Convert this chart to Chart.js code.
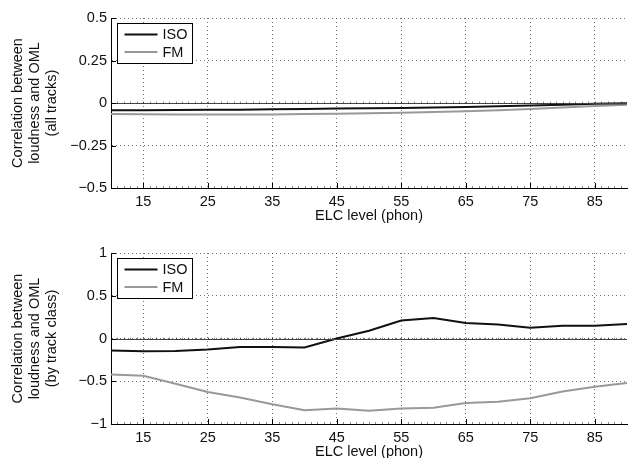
<!DOCTYPE html>
<html>
<head>
<meta charset="utf-8">
<script src="https://cdn.jsdelivr.net/npm/chart.js@4/dist/chart.umd.min.js"></script>
<style>
  html, body { margin: 0; padding: 0; background: #fff; }
  body { width: 628px; height: 458px; overflow: hidden; position: relative; }
  canvas { position: absolute; left: 0; }
  #topChart { top: 0; }
  #bottomChart { top: 229px; }
</style>
</head>
<body>
<canvas id="topChart" width="628" height="229"></canvas>
<canvas id="bottomChart" width="628" height="240"></canvas>
<script>
// ELC levels (phon)
const levels = [10, 15, 20, 25, 30, 35, 40, 45, 50, 55, 60, 65, 70, 75, 80, 85, 90];
const xTicks = [15, 25, 35, 45, 55, 65, 75, 85];

// all tracks
const isoAll = [-0.042, -0.042, -0.041, -0.040, -0.039, -0.037, -0.035, -0.033, -0.031, -0.029, -0.026, -0.023, -0.019, -0.015, -0.010, -0.005, -0.001];
const fmAll = [-0.064, -0.066, -0.067, -0.067, -0.067, -0.067, -0.065, -0.063, -0.060, -0.057, -0.053, -0.048, -0.042, -0.035, -0.027, -0.018, -0.010];

// by track class
const isoClass = [-0.14, -0.15, -0.145, -0.13, -0.10, -0.10, -0.105, 0.0, 0.09, 0.21, 0.24, 0.18, 0.165, 0.125, 0.15, 0.15, 0.17];
const fmClass = [-0.42, -0.435, -0.53, -0.625, -0.69, -0.77, -0.84, -0.82, -0.845, -0.82, -0.81, -0.755, -0.74, -0.70, -0.62, -0.565, -0.52];

const yTicksTop = [-0.5, -0.25, 0, 0.25, 0.5];
const yTicksBottom = [-1, -0.5, 0, 0.5, 1];

const seriesNames = ["ISO", "FM"];
const seriesColors = ["#111111", "#999999"];

Chart.defaults.font.family = "'Liberation Sans', Arial, sans-serif";
Chart.defaults.font.size = 14.5;
Chart.defaults.color = "#111";

function fmt(v) {
  if (v === 0) return "0";
  return String(v).replace("-", "\u2212");
}

function pairs(ys) {
  return levels.map((x, i) => ({ x: x, y: ys[i] }));
}

// zero line, inward ticks, boxed legend
const extras = {
  id: "extras",
  afterDatasetsDraw(chart) {
    const ctx = chart.ctx;
    const a = chart.chartArea;
    const xs = chart.scales.x;
    const ys = chart.scales.y;
    ctx.save();

    // zero reference line
    const y0 = Math.round(ys.getPixelForValue(0)) + 0.5;
    ctx.strokeStyle = "#444";
    ctx.lineWidth = 1;
    ctx.beginPath();
    ctx.moveTo(a.left, y0);
    ctx.lineTo(a.right, y0);
    ctx.stroke();

    // minor ticks along zero line and bottom axis
    ctx.strokeStyle = "rgba(0,0,0,0.45)";
    ctx.beginPath();
    for (let v = 11; v < 90; v++) {
      const px = Math.round(xs.getPixelForValue(v)) + 0.5;
      ctx.moveTo(px, y0);
      ctx.lineTo(px, y0 - 2);
      ctx.moveTo(px, a.bottom);
      ctx.lineTo(px, a.bottom - 2);
    }
    ctx.stroke();

    // major ticks (inward)
    ctx.strokeStyle = "#000";
    ctx.beginPath();
    xTicks.forEach(v => {
      const px = Math.round(xs.getPixelForValue(v)) + 0.5;
      ctx.moveTo(px, a.bottom);
      ctx.lineTo(px, a.bottom - 5);
    });
    ys.ticks.forEach(t => {
      const py = Math.round(ys.getPixelForValue(t.value)) + 0.5;
      ctx.moveTo(a.left, py);
      ctx.lineTo(a.left + 5, py);
    });
    ctx.stroke();

    // legend
    const bx = Math.round(a.left + 6) + 0.5;
    const by = Math.round(a.top + 5) + 0.5;
    const bw = 75, bh = 40;
    ctx.fillStyle = "#fff";
    ctx.fillRect(bx, by, bw, bh);
    ctx.strokeStyle = "#000";
    ctx.lineWidth = 1;
    ctx.strokeRect(bx, by, bw, bh);
    ctx.font = "14.5px 'Liberation Sans', Arial, sans-serif";
    ctx.textBaseline = "middle";
    chart.data.datasets.forEach((ds, i) => {
      const ly = by + 11 + i * 17.5;
      ctx.strokeStyle = ds.borderColor;
      ctx.lineWidth = 2;
      ctx.beginPath();
      ctx.moveTo(bx + 7, ly);
      ctx.lineTo(bx + 40, ly);
      ctx.stroke();
      ctx.fillStyle = "#111";
      ctx.fillText(ds.label, bx + 45, ly + 0.5);
    });
    ctx.restore();
  }
};

function makeChart(id, isoVals, fmVals, yTicks, titleLines, topPad, xHeight) {
  const yMin = yTicks[0];
  const yMax = yTicks[yTicks.length - 1];
  return new Chart(document.getElementById(id), {
    type: "line",
    data: {
      datasets: [
        { label: seriesNames[0], data: pairs(isoVals), borderColor: seriesColors[0], borderWidth: 2, pointRadius: 0, tension: 0 },
        { label: seriesNames[1], data: pairs(fmVals), borderColor: seriesColors[1], borderWidth: 2, pointRadius: 0, tension: 0 }
      ]
    },
    options: {
      responsive: false,
      animation: false,
      layout: { padding: { top: topPad, right: 1, left: 0, bottom: 0 } },
      plugins: { legend: { display: false }, tooltip: { enabled: false } },
      scales: {
        x: {
          type: "linear",
          min: 10,
          max: 90,
          afterBuildTicks: s => { s.ticks = xTicks.map(v => ({ value: v })); },
          afterFit: s => { s.height = xHeight; },
          ticks: { padding: 5, maxRotation: 0, callback: v => String(v) },
          grid: { color: "rgba(0,0,0,0.55)", lineWidth: 1, drawTicks: false, tickLength: 0, borderDash: [1, 3] },
          border: { display: true, color: "#000", width: 1, dash: [1, 3] },
          title: { display: true, text: "ELC level (phon)", padding: { top: 0, bottom: xHeight - 41 + 4.3 } }
        },
        y: {
          min: yMin,
          max: yMax,
          afterBuildTicks: s => { s.ticks = yTicks.map(v => ({ value: v })); },
          afterFit: s => { s.width = 111; },
          ticks: { padding: 4, callback: v => fmt(v) },
          grid: { color: "rgba(0,0,0,0.55)", lineWidth: 1, drawTicks: false, tickLength: 0 },
          border: { display: true, color: "#000", width: 1, dash: [1, 3] },
          title: { display: true, text: titleLines, font: { size: 14.5, lineHeight: 1.17 }, padding: { top: 10, bottom: 0 } }
        }
      }
    },
    plugins: [extras]
  });
}

// the grid dash is set per scale below, borders solid
makeChart("topChart", isoAll, fmAll, yTicksTop,
  ["Correlation between", "loudness and OML", "(all tracks)"], 18, 41);
makeChart("bottomChart", isoClass, fmClass, yTicksBottom,
  ["Correlation between", "loudness and OML", "(by track class)"], 24, 45);
</script>
</body>
</html>
